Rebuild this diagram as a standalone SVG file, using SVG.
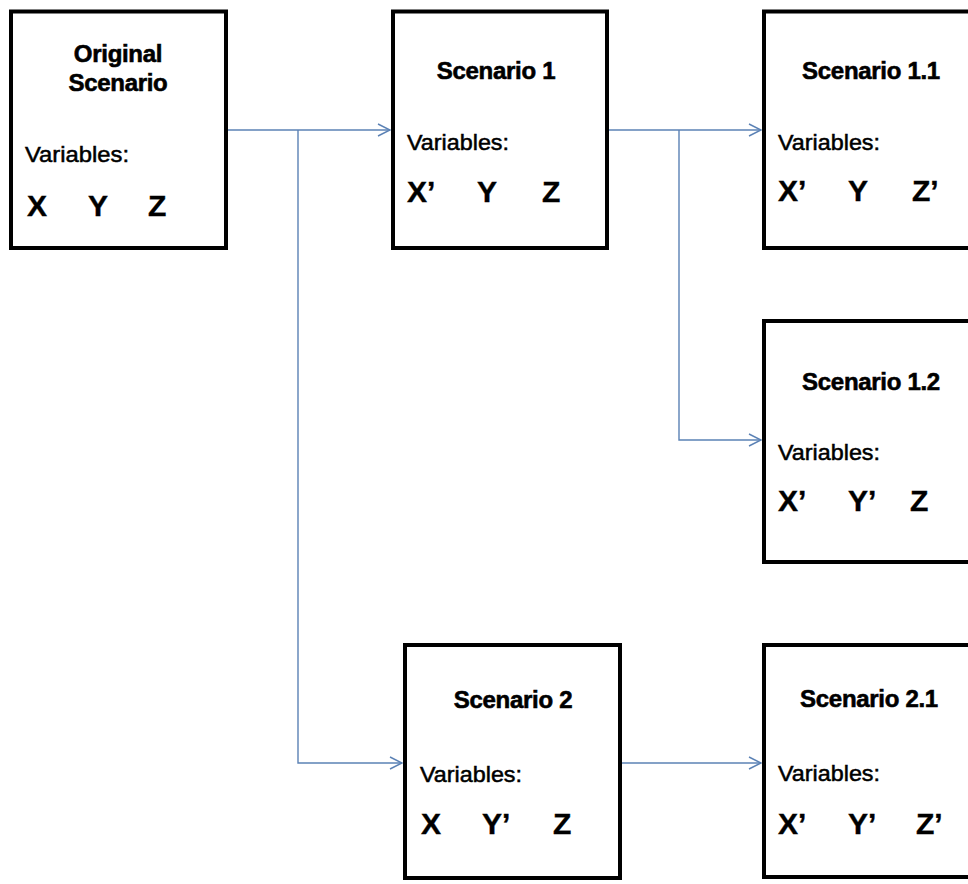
<svg xmlns="http://www.w3.org/2000/svg" width="968" height="884" viewBox="0 0 968 884">
  <style>
    .box { fill: #ffffff; stroke: #000000; stroke-width: 4; }
    .title { font-family: "Liberation Sans", Arial, sans-serif; font-weight: bold; font-size: 24px; fill: #000; stroke: #000; stroke-width: 0.6; text-anchor: middle; letter-spacing: -0.3px; }
    .vars { font-family: "Liberation Sans", Arial, sans-serif; font-size: 22px; fill: #000; stroke: #000; stroke-width: 0.5; }
    .var { font-family: "Liberation Sans", Arial, sans-serif; font-weight: bold; font-size: 30px; fill: #000; stroke: #000; stroke-width: 0.4; }
    .conn { fill: none; stroke: #5b82b5; stroke-width: 1.4; }
  </style>
  <defs>
    <marker id="arrow" markerUnits="userSpaceOnUse" markerWidth="16" markerHeight="16" viewBox="-14 -8 16 16" refX="0" refY="0" orient="auto">
      <path d="M-12,-6 L0,0 L-12,6" fill="none" stroke="#5b82b5" stroke-width="1.4"/>
    </marker>
  </defs>
  <rect width="968" height="884" fill="#ffffff"/>

  <!-- connectors -->
  <g id="connectors">
    <path class="conn" d="M228,130 H390" marker-end="url(#arrow)"/>
    <path class="conn" d="M298,130 V763 H402" marker-end="url(#arrow)"/>
    <path class="conn" d="M609,130 H761" marker-end="url(#arrow)"/>
    <path class="conn" d="M679,130 V440 H761" marker-end="url(#arrow)"/>
    <path class="conn" d="M622,763 H761" marker-end="url(#arrow)"/>
  </g>

  <!-- Original Scenario -->
  <g id="original">
    <rect class="box" x="11" y="11.5" width="215" height="236.5"/>
    <text class="title" x="118" y="62">Original</text>
    <text class="title" x="118" y="91">Scenario</text>
    <text class="vars" x="25" y="162" textLength="104" lengthAdjust="spacingAndGlyphs">Variables:</text>
    <text class="var" x="27" y="216">X</text>
    <text class="var" x="88" y="216">Y</text>
    <text class="var" x="148" y="216">Z</text>
  </g>

  <!-- Scenario 1 -->
  <g id="scenario1">
    <rect class="box" x="393" y="11.5" width="214" height="236.5"/>
    <text class="title" x="496" y="79">Scenario 1</text>
    <text class="vars" x="407" y="150" textLength="102" lengthAdjust="spacingAndGlyphs">Variables:</text>
    <text class="var" x="407" y="202">X’</text>
    <text class="var" x="477" y="202">Y</text>
    <text class="var" x="542" y="202">Z</text>
  </g>

  <!-- Scenario 1.1 -->
  <g id="scenario1_1">
    <rect class="box" x="764" y="11.5" width="216" height="236.5"/>
    <text class="title" x="871" y="79">Scenario 1.1</text>
    <text class="vars" x="778" y="150" textLength="102" lengthAdjust="spacingAndGlyphs">Variables:</text>
    <text class="var" x="778" y="201">X’</text>
    <text class="var" x="848" y="201">Y</text>
    <text class="var" x="912" y="201">Z’</text>
  </g>

  <!-- Scenario 1.2 -->
  <g id="scenario1_2">
    <rect class="box" x="764" y="321" width="216" height="241"/>
    <text class="title" x="871" y="390">Scenario 1.2</text>
    <text class="vars" x="778" y="460" textLength="102" lengthAdjust="spacingAndGlyphs">Variables:</text>
    <text class="var" x="778" y="511">X’</text>
    <text class="var" x="848" y="511">Y’</text>
    <text class="var" x="910" y="511">Z</text>
  </g>

  <!-- Scenario 2 -->
  <g id="scenario2">
    <rect class="box" x="405" y="645" width="215" height="233"/>
    <text class="title" x="513" y="708">Scenario 2</text>
    <text class="vars" x="420" y="782" textLength="102" lengthAdjust="spacingAndGlyphs">Variables:</text>
    <text class="var" x="421" y="834">X</text>
    <text class="var" x="482" y="834">Y’</text>
    <text class="var" x="553" y="834">Z</text>
  </g>

  <!-- Scenario 2.1 -->
  <g id="scenario2_1">
    <rect class="box" x="764" y="645" width="216" height="232"/>
    <text class="title" x="869" y="707">Scenario 2.1</text>
    <text class="vars" x="778" y="781" textLength="102" lengthAdjust="spacingAndGlyphs">Variables:</text>
    <text class="var" x="778" y="834">X’</text>
    <text class="var" x="848" y="834">Y’</text>
    <text class="var" x="916" y="834">Z’</text>
  </g>
</svg>
